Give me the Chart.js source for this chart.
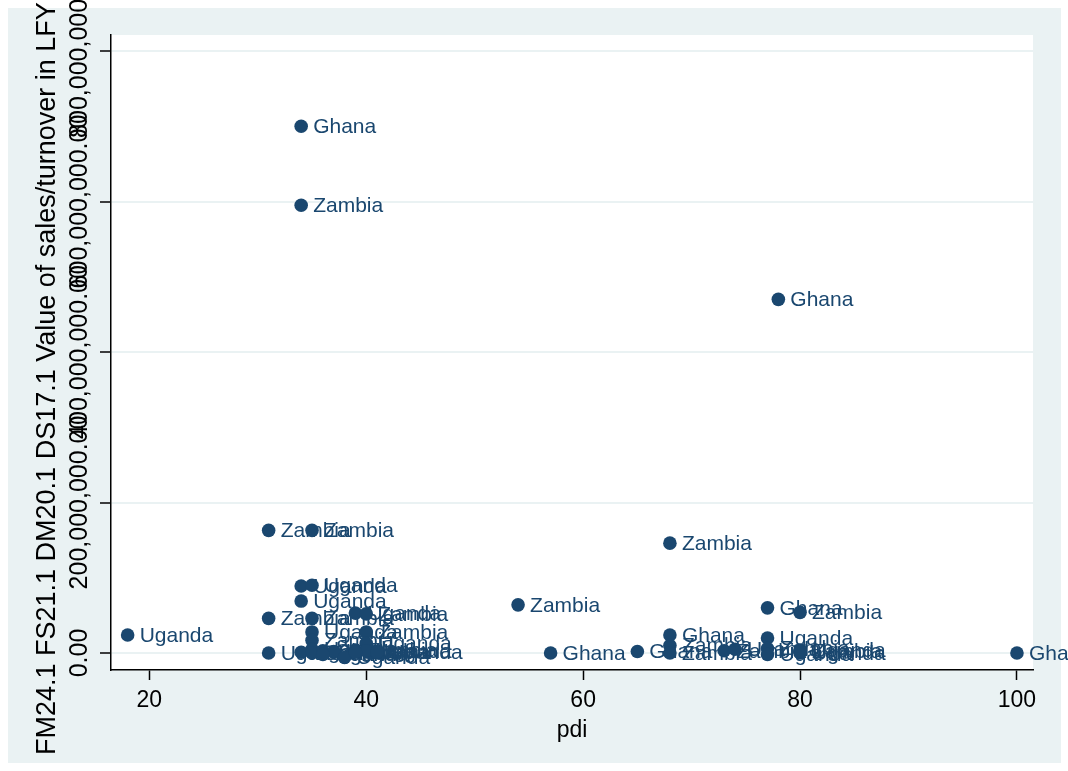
<!DOCTYPE html>
<html>
<head>
<meta charset="utf-8">
<script src="https://cdn.jsdelivr.net/npm/chart.js@4"></script>
<style>
  html, body { margin: 0; padding: 0; background: #ffffff; }
  canvas { display: block; }
</style>
</head>
<body>
<canvas id="chart" width="1068" height="771"></canvas>
<script>
// Firm sales (value of sales/turnover in last fiscal year) against pdi, labelled by country
const countries = [
  'Ghana', 'Zambia', 'Ghana', 'Zambia', 'Zambia', 'Zambia',
  'Uganda', 'Uganda', 'Uganda', 'Zambia', 'Ghana', 'Zambia',
  'Uganda', 'Zambia', 'Zambia', 'Uganda', 'Zambia',
  'Uganda', 'Zambia', 'Zambia', 'Uganda', 'Uganda',
  'Uganda', 'Uganda', 'Uganda', 'Ghana', 'Uganda', 'Zambia', 'Uganda', 'Uganda', 'Ghana', 'Uganda', 'Uganda',
  'Ghana', 'Ghana', 'Ghana', 'Zambia', 'Zambia', 'Zambia', 'Uganda',
  'Uganda', 'Zambia', 'Uganda', 'Uganda', 'Uganda', 'Zambia', 'Ghana'
];
const pdi = [
  34, 34, 78, 31, 35, 68,
  34, 35, 34, 54, 77, 80,
  18, 31, 35, 39, 40,
  35, 40, 35, 40, 35,
  31, 34, 35, 36, 37, 39, 38, 40, 39, 41, 36,
  57, 65, 68, 68, 68, 73, 74,
  77, 77, 77, 80, 80, 80, 100
];
const sales = [
  700e6, 595e6, 470e6, 163e6, 163e6, 146e6,
  89e6, 90e6, 69e6, 64e6, 60e6, 54e6,
  24e6, 46e6, 46e6, 53e6, 52e6,
  28e6, 28e6, 17e6, 13e6, 5e6,
  0, 1e6, 0, 3e6, 2e6, 4e6, -6e6, 3e6, 1e6, 1e6, -2e6,
  0, 2e6, 24e6, 10e6, 0, 3e6, 5e6,
  20e6, 6e6, -2e6, 0, 4e6, 2e6, 0
];
const xTicks = [20, 40, 60, 80, 100];
const yTicks = [0, 200e6, 400e6, 600e6, 800e6];
const xTitle = 'pdi';
const yTitle = 'FM24.1 FS21.1 DM20.1 DS17.1 Value of sales/turnover in LFY';

const NAVY = '#1a476f';
const PANEL = '#eaf2f3';
const FONT = '"Liberation Sans", Arial, Helvetica, sans-serif';

const points = pdi.map((x, i) => ({ x: x, y: sales[i], name: countries[i] }));

// Page backdrop: light outer panel with a white plot region
const backdrop = {
  id: 'backdrop',
  beforeDraw(chart) {
    const { ctx, chartArea: a } = chart;
    ctx.save();
    ctx.fillStyle = '#ffffff';
    ctx.fillRect(0, 0, chart.width, chart.height);
    ctx.fillStyle = PANEL;
    ctx.fillRect(8, 8, 1053, 755);
    ctx.fillStyle = '#ffffff';
    ctx.fillRect(a.left, a.top, a.right - a.left, a.bottom - a.top);
    ctx.restore();
  }
};

// Country names to the right of each marker, drawn beneath the markers
const markerLabels = {
  id: 'markerLabels',
  beforeDatasetsDraw(chart) {
    const { ctx } = chart;
    const meta = chart.getDatasetMeta(0);
    ctx.save();
    ctx.font = '21px ' + FONT;
    ctx.fillStyle = NAVY;
    ctx.textAlign = 'left';
    ctx.textBaseline = 'middle';
    meta.data.forEach((el, i) => {
      ctx.fillText(points[i].name, el.x + 12, el.y + 1);
    });
    ctx.restore();
  }
};

// Vertical y tick labels, the y-axis title and the x-axis title
const axisText = {
  id: 'axisText',
  afterDraw(chart) {
    const { ctx, chartArea: a } = chart;
    const ys = chart.scales.y;
    ctx.save();
    ctx.fillStyle = '#000000';
    ctx.textBaseline = 'middle';
    ctx.font = '25px ' + FONT;
    ctx.textAlign = 'center';
    yTicks.forEach(v => {
      const py = ys.getPixelForValue(v);
      const txt = v.toLocaleString('en-US', { minimumFractionDigits: 2, maximumFractionDigits: 2 });
      ctx.save();
      ctx.translate(80, py);
      ctx.rotate(-Math.PI / 2);
      ctx.fillText(txt, 0, 0);
      ctx.restore();
    });
    ctx.font = '27px ' + FONT;
    ctx.textAlign = 'left';
    ctx.save();
    ctx.translate(48, 755);
    ctx.rotate(-Math.PI / 2);
    ctx.fillText(yTitle, 0, 0);
    ctx.restore();
    ctx.font = '23px ' + FONT;
    ctx.textAlign = 'center';
    ctx.fillText(xTitle, (a.left + a.right) / 2, 731);
    ctx.restore();
  }
};

new Chart(document.getElementById('chart'), {
  type: 'scatter',
  data: {
    datasets: [{
      data: points,
      backgroundColor: NAVY,
      borderWidth: 0,
      pointRadius: 6.8,
      pointHoverRadius: 6.8
    }]
  },
  options: {
    responsive: false,
    animation: false,
    devicePixelRatio: 1,
    events: [],
    layout: { padding: { top: 35, right: 35, left: 0, bottom: 0 } },
    plugins: {
      legend: { display: false },
      tooltip: { enabled: false }
    },
    scales: {
      x: {
        type: 'linear',
        min: 16.465,
        max: 101.48,
        afterFit(scale) { scale.height = 101; },
        afterBuildTicks(scale) { scale.ticks = xTicks.map(v => ({ value: v })); },
        border: { display: true, color: '#000000', width: 1.5 },
        grid: { display: true, drawOnChartArea: false, color: 'rgba(0,0,0,0)', tickColor: '#000000', tickLength: 10, tickWidth: 1.5 },
        ticks: {
          color: '#000000',
          font: { family: FONT, size: 23 },
          padding: 7,
          maxRotation: 0,
          autoSkip: false
        },
        title: { display: false }
      },
      y: {
        type: 'linear',
        min: -22.6e6,
        max: 821.3e6,
        afterFit(scale) { scale.width = 111; },
        afterBuildTicks(scale) { scale.ticks = yTicks.map(v => ({ value: v })); },
        border: { display: true, color: '#000000', width: 1.5 },
        grid: { display: true, color: PANEL, lineWidth: 2, tickColor: '#000000', tickLength: 11, tickWidth: 1.5 },
        ticks: { display: false },
        title: { display: false }
      }
    }
  },
  plugins: [backdrop, markerLabels, axisText]
});
</script>
</body>
</html>
